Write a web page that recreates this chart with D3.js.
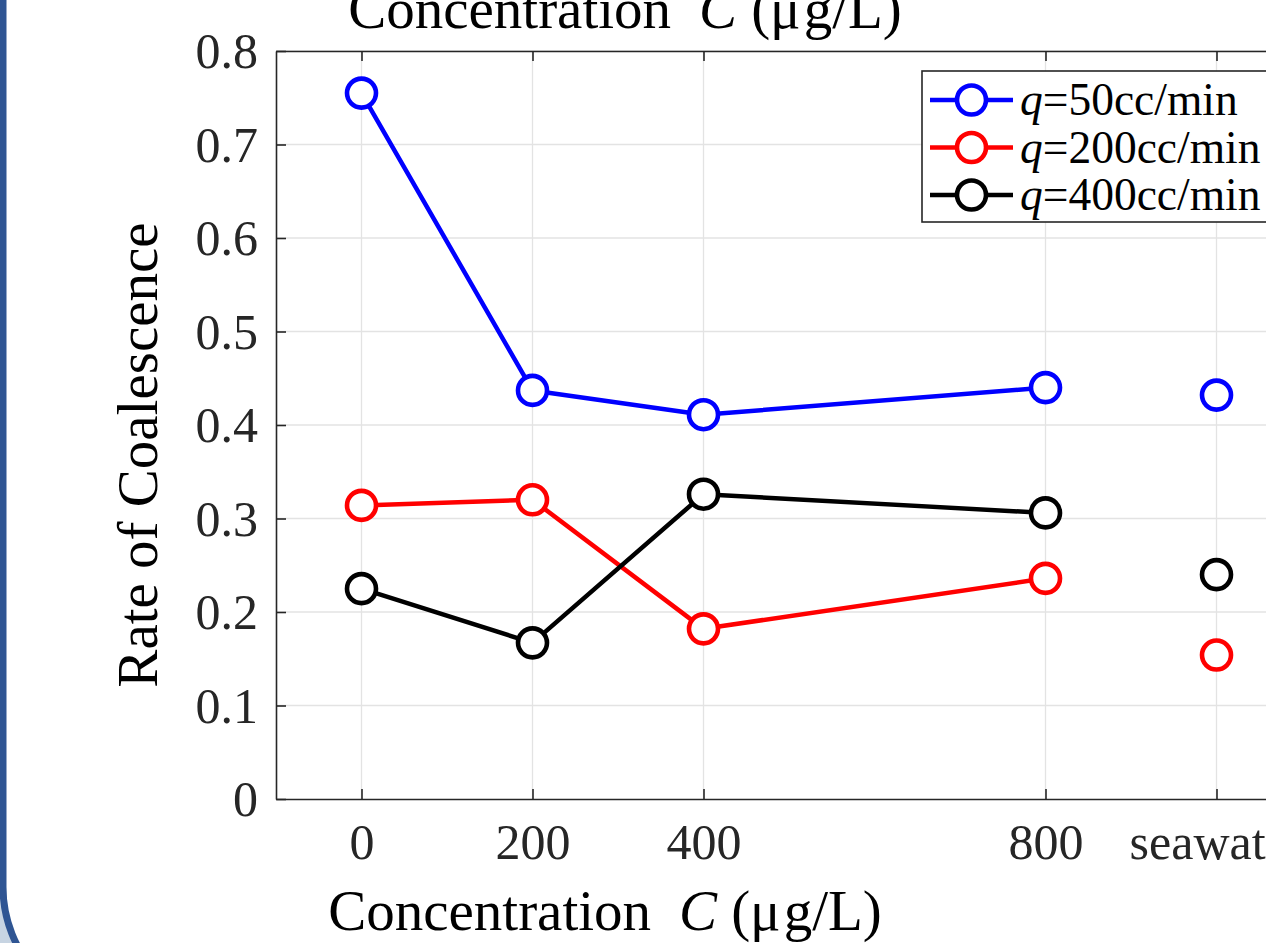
<!DOCTYPE html>
<html>
<head>
<meta charset="utf-8">
<script src="https://cdn.jsdelivr.net/npm/d3@7"></script>
<style>
html,body{margin:0;padding:0;background:#fff;overflow:hidden;}
svg{display:block;}
text{font-family:"Liberation Serif","Times New Roman",serif;white-space:pre;}
</style>
</head>
<body>
<svg id="chart" width="1266" height="943"></svg>
<script>
// ---- data ----
const categories = ["0", "200", "400", "800", "seawater"];
const xValues = [0, 200, 400, 800, 1000];           // position of each category on the concentration axis
const seriesNames = ["q=50cc/min", "q=200cc/min", "q=400cc/min"];
const flowRates = ["50", "200", "400"];
const blueValues  = [0.755, 0.437, 0.411, 0.440, 0.432];
const redValues   = [0.314, 0.320, 0.182, 0.236, 0.154];
const blackValues = [0.225, 0.167, 0.326, 0.306, 0.240];
const yTicks = [0, 0.1, 0.2, 0.3, 0.4, 0.5, 0.6, 0.7, 0.8];
const yTickLabels = ["0", "0.1", "0.2", "0.3", "0.4", "0.5", "0.6", "0.7", "0.8"];
const xDomain = [-100, 1100];
const yDomain = [0, 0.8];

const series = [
  {name: seriesNames[0], rate: flowRates[0], values: blueValues, color: "#0000ff"},
  {name: seriesNames[1], rate: flowRates[1], values: redValues, color: "#ff0000"},
  {name: seriesNames[2], rate: flowRates[2], values: blackValues, color: "#000000"}
];

// ---- layout ----
const W = 1266, H = 943;
const axL = 276, axT = 51, axB = 799;
const axR = axL + (xDomain[1] - xDomain[0]) * 0.855;
const axisColor = "#262626";
const tickFont = 50, labelFont = 57, legendFont = 45.5;

const svg = d3.select("#chart");

// page frame (blue rounded border)
svg.append("rect").attr("x", 0).attr("y", 0).attr("width", W).attr("height", H).attr("fill", "#c7d4e2");
svg.append("rect")
  .attr("x", 3).attr("y", -200).attr("width", W + 200).attr("height", 1214)
  .attr("rx", 127).attr("ry", 127)
  .attr("fill", "#ffffff").attr("stroke", "#2f5593").attr("stroke-width", 7);

const x = d3.scaleLinear().domain(xDomain).range([axL, axR]);
const y = d3.scaleLinear().domain(yDomain).range([axB, axT]);

// grid
const grid = svg.append("g");
grid.selectAll(".gx").data(xValues).join("line")
  .attr("x1", d => x(d)).attr("x2", d => x(d)).attr("y1", axT).attr("y2", axB)
  .attr("stroke", "#e3e3e3").attr("stroke-width", 1.3);
grid.selectAll(".gy").data(yTicks.slice(1)).join("line")
  .attr("x1", axL).attr("x2", axR).attr("y1", d => y(d)).attr("y2", d => y(d))
  .attr("stroke", "#e3e3e3").attr("stroke-width", 1.3);

// axes
const xAxis = d3.axisBottom(x).tickValues(xValues).tickFormat((d, i) => categories[i])
  .tickSizeInner(-10).tickSizeOuter(0).tickPadding(24);
const gx = svg.append("g").attr("transform", `translate(0,${axB})`).call(xAxis);
const xTop = d3.axisTop(x).tickValues(xValues).tickFormat("").tickSizeInner(-10).tickSizeOuter(0);
const gxt = svg.append("g").attr("transform", `translate(0,${axT})`).call(xTop);
const yAxis = d3.axisLeft(y).tickValues(yTicks).tickFormat((d, i) => yTickLabels[i])
  .tickSizeInner(-10).tickSizeOuter(0).tickPadding(18);
const gy = svg.append("g").attr("transform", `translate(${axL},0)`).call(yAxis);

[gx, gxt, gy].forEach(g => {
  g.select(".domain").attr("stroke", axisColor).attr("stroke-width", 1.6);
  g.selectAll(".tick line").attr("stroke", axisColor).attr("stroke-width", 1.6);
  g.selectAll(".tick text").attr("fill", axisColor)
    .style("font-size", tickFont + "px")
    .style("font-family", '"Liberation Serif","Times New Roman",serif');
});
gy.selectAll(".tick text").attr("dy", "0.33em");
gx.selectAll(".tick text").attr("dy", "0.71em");

// lines and markers
const line = d3.line().x(d => x(d.x)).y(d => y(d.v));
const plot = svg.append("g");
series.forEach(s => {
  const pts = s.values.map((v, i) => ({x: xValues[i], v: v}));
  plot.append("path").datum(pts.slice(0, 4)).attr("d", line)
    .attr("fill", "none").attr("stroke", s.color).attr("stroke-width", 4.5)
    .attr("stroke-linejoin", "round");
  plot.selectAll(null).data(pts).join("circle")
    .attr("cx", d => x(d.x)).attr("cy", d => y(d.v)).attr("r", 14.5)
    .attr("fill", "#ffffff").attr("stroke", s.color).attr("stroke-width", 4.6);
});

// axis labels
function conc(sel) {
  sel.append("tspan").text("Concentration");
  sel.append("tspan").attr("dx", 28).attr("font-style", "italic").text("C");
  sel.append("tspan").attr("dx", 14).text("(μ");
  sel.append("tspan").attr("dx", 3).text("g/L)");
}
svg.append("text").attr("x", 605).attr("y", 930).attr("text-anchor", "middle")
  .style("font-size", labelFont + "px").attr("fill", "#000").call(conc);
svg.append("text").attr("x", 625).attr("y", 28).attr("text-anchor", "middle")
  .style("font-size", labelFont + "px").attr("fill", "#000").call(conc);
svg.append("text").attr("transform", "translate(157,455) rotate(-90)").attr("text-anchor", "middle")
  .style("font-size", labelFont + "px").attr("fill", "#000").text("Rate of Coalescence");

// legend
const lg = svg.append("g");
lg.append("rect").attr("x", 922).attr("y", 71).attr("width", 360).attr("height", 151)
  .attr("fill", "#fff").attr("stroke", axisColor).attr("stroke-width", 1.6);
series.forEach((s, i) => {
  const cy = 100 + i * 47.5;
  lg.append("line").attr("x1", 930).attr("x2", 1013).attr("y1", cy).attr("y2", cy)
    .attr("stroke", s.color).attr("stroke-width", 4.5);
  lg.append("circle").attr("cx", 971.5).attr("cy", cy).attr("r", 14.5)
    .attr("fill", "#fff").attr("stroke", s.color).attr("stroke-width", 4.6);
  const t = lg.append("text").attr("x", 1020).attr("y", cy).attr("dy", "0.33em")
    .style("font-size", legendFont + "px").attr("fill", "#000");
  t.append("tspan").attr("font-style", "italic").text("q");
  t.append("tspan").text("=" + s.rate + "cc/min");
});
</script>
</body>
</html>
